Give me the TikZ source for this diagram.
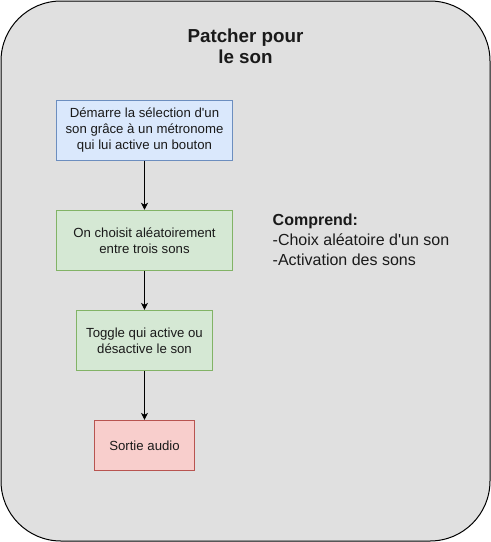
\documentclass[tikz,border=0pt]{standalone}
\usepackage{fontspec}
\setmainfont{Liberation Sans}
\usetikzlibrary{arrows.meta}
\definecolor{outerfill}{HTML}{E0E0E0}
\definecolor{bluefill}{HTML}{DAE8FC}
\definecolor{blueline}{HTML}{6C8EBF}
\definecolor{greenfill}{HTML}{D5E8D4}
\definecolor{greenline}{HTML}{82B366}
\definecolor{redfill}{HTML}{F8CECC}
\definecolor{redline}{HTML}{B85450}
\definecolor{txt}{HTML}{1A1A1A}
\tikzset{
  boxstyle/.style={draw, line width=0.9pt, inner sep=0pt, align=center, text=txt,
    font=\fontsize{13.2}{16}\selectfont},
  bluebox/.style={boxstyle, fill=bluefill, draw=blueline},
  greenbox/.style={boxstyle, fill=greenfill, draw=greenline},
  redbox/.style={boxstyle, fill=redfill, draw=redline},
  flowarrow/.style={draw, line width=0.9pt, -{Stealth[length=7pt,width=7pt,inset=2pt]}},
}
\begin{document}
\begin{tikzpicture}[x=1pt,y=-1pt]
\useasboundingbox (0,0) rectangle (491,542);
\draw[fill=outerfill, line width=1pt, rounded corners=60pt] (1,1) rectangle (490,541);
\node[font=\fontsize{18.8}{21}\selectfont\bfseries, align=center, text=txt] (title) at (245.5,46) {Patcher pour\\le son};
\node[bluebox, minimum width=176.5pt, minimum height=60pt] (b1) at (144.5,130.2) {Démarre la sélection d\textquotesingle un\\son grâce à un métronome\\qui lui active un bouton};
\node[greenbox, minimum width=176.5pt, minimum height=60pt] (b2) at (144.5,240.2) {On choisit aléatoirement\\entre trois sons};
\node[greenbox, minimum width=136.5pt, minimum height=60pt] (b3) at (144.5,340.3) {Toggle qui active ou\\désactive le son};
\node[redbox, minimum width=100.5pt, minimum height=50pt] (b4) at (144.5,445.3) {Sortie audio};
\draw[flowarrow] (b1) -- (b2);
\draw[flowarrow] (b2) -- (b3);
\draw[flowarrow] (b3) -- (b4);
\node[anchor=north west, align=left, text=txt, inner sep=0pt, font=\fontsize{16}{20}\selectfont] (notes) at (272.5,214) {\textbf{Comprend:}\\-Choix aléatoire d\textquotesingle un son\\-Activation des sons};
\end{tikzpicture}
\end{document}
